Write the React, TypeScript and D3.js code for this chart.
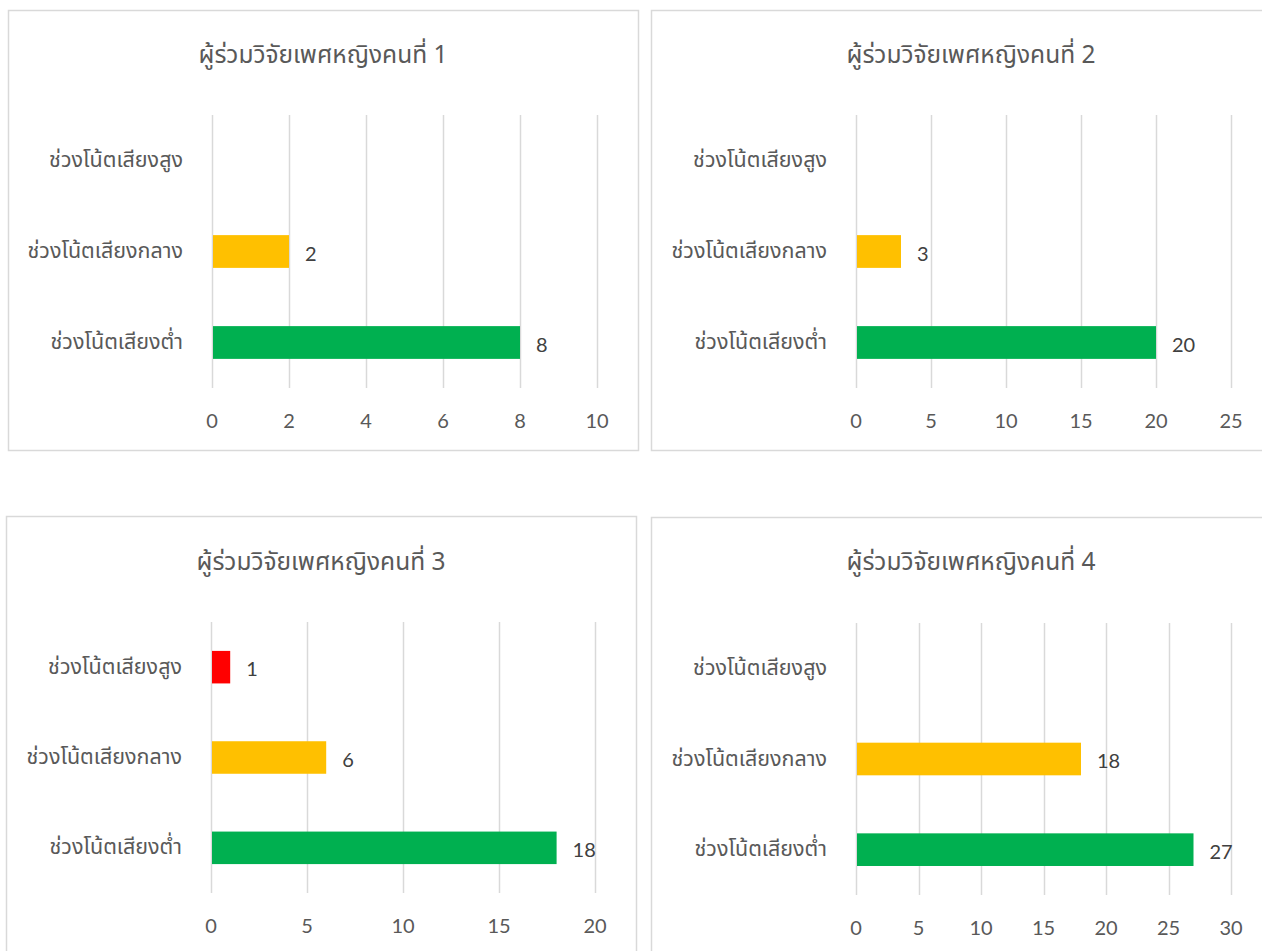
import React, { useEffect, useRef } from 'react';
import * as d3 from 'd3';

// chart data
const categories = ['ช่วงโน้ตเสียงสูง', 'ช่วงโน้ตเสียงกลาง', 'ช่วงโน้ตเสียงต่ำ'];
const titles = [
  'ผู้ร่วมวิจัยเพศหญิงคนที่ 1',
  'ผู้ร่วมวิจัยเพศหญิงคนที่ 2',
  'ผู้ร่วมวิจัยเพศหญิงคนที่ 3',
  'ผู้ร่วมวิจัยเพศหญิงคนที่ 4',
];
const highValues = [null, null, 1, null];
const midValues = [2, 3, 6, 18];
const lowValues = [8, 20, 18, 27];
const axisMax = [10, 25, 20, 30];
const tickStep = [2, 5, 5, 5];

const barColors = ['#FF0000', '#FFC000', '#00B050'];

// panel layout on the page
const panels = [
  { fx: 8, fy: 10, fw: 630, fh: 440, px0: 212, px1: 597, py0: 115, py1: 388, ty: 55 },
  { fx: 651, fy: 10, fw: 640, fh: 440, px0: 856, px1: 1231, py0: 115, py1: 388, ty: 55 },
  { fx: 6, fy: 516, fw: 630, fh: 450, px0: 211, px1: 595, py0: 622, py1: 893, ty: 562 },
  { fx: 651, fy: 517, fw: 640, fh: 450, px0: 856, px1: 1231, py0: 623, py1: 895, ty: 562 },
];

const thaiFont = "Tahoma, 'Leelawadee UI', 'Noto Sans Thai', 'Noto Sans', sans-serif";
const numFont = "Lato, 'Open Sans', sans-serif";

function App() {
  const ref = useRef<SVGSVGElement>(null);

  useEffect(() => {
    const svg = d3.select(ref.current);
    svg.selectAll('*').remove();

    svg.append('rect').attr('width', 1262).attr('height', 951).attr('fill', '#fff');

    panels.forEach((p, i) => {
      const g = svg.append('g');

      g.append('rect')
        .attr('x', p.fx + 0.5)
        .attr('y', p.fy + 0.5)
        .attr('width', p.fw)
        .attr('height', p.fh)
        .attr('fill', '#fff')
        .attr('stroke', '#d9d9d9')
        .attr('stroke-width', 1.5);

      const x = d3.scaleLinear().domain([0, axisMax[i]]).range([p.px0, p.px1]);
      const y = d3.scaleBand()
        .domain(categories)
        .range([p.py0, p.py1])
        .paddingInner(0.64)
        .paddingOuter(0.32);

      const ticks = d3.range(0, axisMax[i] + tickStep[i] / 2, tickStep[i]);

      // gridlines
      g.selectAll('.grid')
        .data(ticks)
        .enter()
        .append('line')
        .attr('x1', d => Math.round(x(d)) + 0.5)
        .attr('x2', d => Math.round(x(d)) + 0.5)
        .attr('y1', p.py0)
        .attr('y2', p.py1)
        .attr('stroke', '#d9d9d9')
        .attr('stroke-width', 1.5);

      // tick labels
      g.selectAll('.tick')
        .data(ticks)
        .enter()
        .append('text')
        .attr('x', d => x(d))
        .attr('y', p.py1 + 32)
        .attr('text-anchor', 'middle')
        .attr('dominant-baseline', 'central')
        .attr('font-family', numFont)
        .attr('font-size', 20)
        .attr('fill', '#595959')
        .text(d => d);

      // category labels
      g.selectAll('.cat')
        .data(categories)
        .enter()
        .append('text')
        .attr('x', p.px0 - 29)
        .attr('y', d => y(d)! + y.bandwidth() / 2)
        .attr('text-anchor', 'end')
        .attr('dominant-baseline', 'central')
        .attr('font-family', thaiFont)
        .attr('font-size', 21.5)
        .attr('fill', '#595959')
        .text(d => d);

      // bars
      const rows = [highValues[i], midValues[i], lowValues[i]]
        .map((v, k) => ({ cat: categories[k], v, color: barColors[k] }))
        .filter(r => r.v !== null) as { cat: string; v: number; color: string }[];

      g.selectAll('.bar')
        .data(rows)
        .enter()
        .append('rect')
        .attr('x', x(0) + 1)
        .attr('y', d => y(d.cat)!)
        .attr('width', d => x(d.v) - x(0) - 1)
        .attr('height', y.bandwidth())
        .attr('fill', d => d.color);

      g.selectAll('.val')
        .data(rows)
        .enter()
        .append('text')
        .attr('x', d => x(d.v) + 16)
        .attr('y', d => y(d.cat)! + y.bandwidth() / 2 + 1)
        .attr('dominant-baseline', 'central')
        .attr('font-family', numFont)
        .attr('font-size', 20)
        .attr('fill', '#404040')
        .text(d => d.v);

      // title
      g.append('text')
        .attr('x', p.fx + p.fw / 2)
        .attr('y', p.ty)
        .attr('text-anchor', 'middle')
        .attr('dominant-baseline', 'central')
        .attr('font-family', thaiFont)
        .attr('font-size', 24.5)
        .attr('fill', '#595959')
        .text(titles[i]);
    });
  }, []);

  return (
    <svg
      ref={ref}
      width={1262}
      height={951}
      style={{ position: 'absolute', left: 0, top: 0, display: 'block' }}
    />
  );
}

export default App;
